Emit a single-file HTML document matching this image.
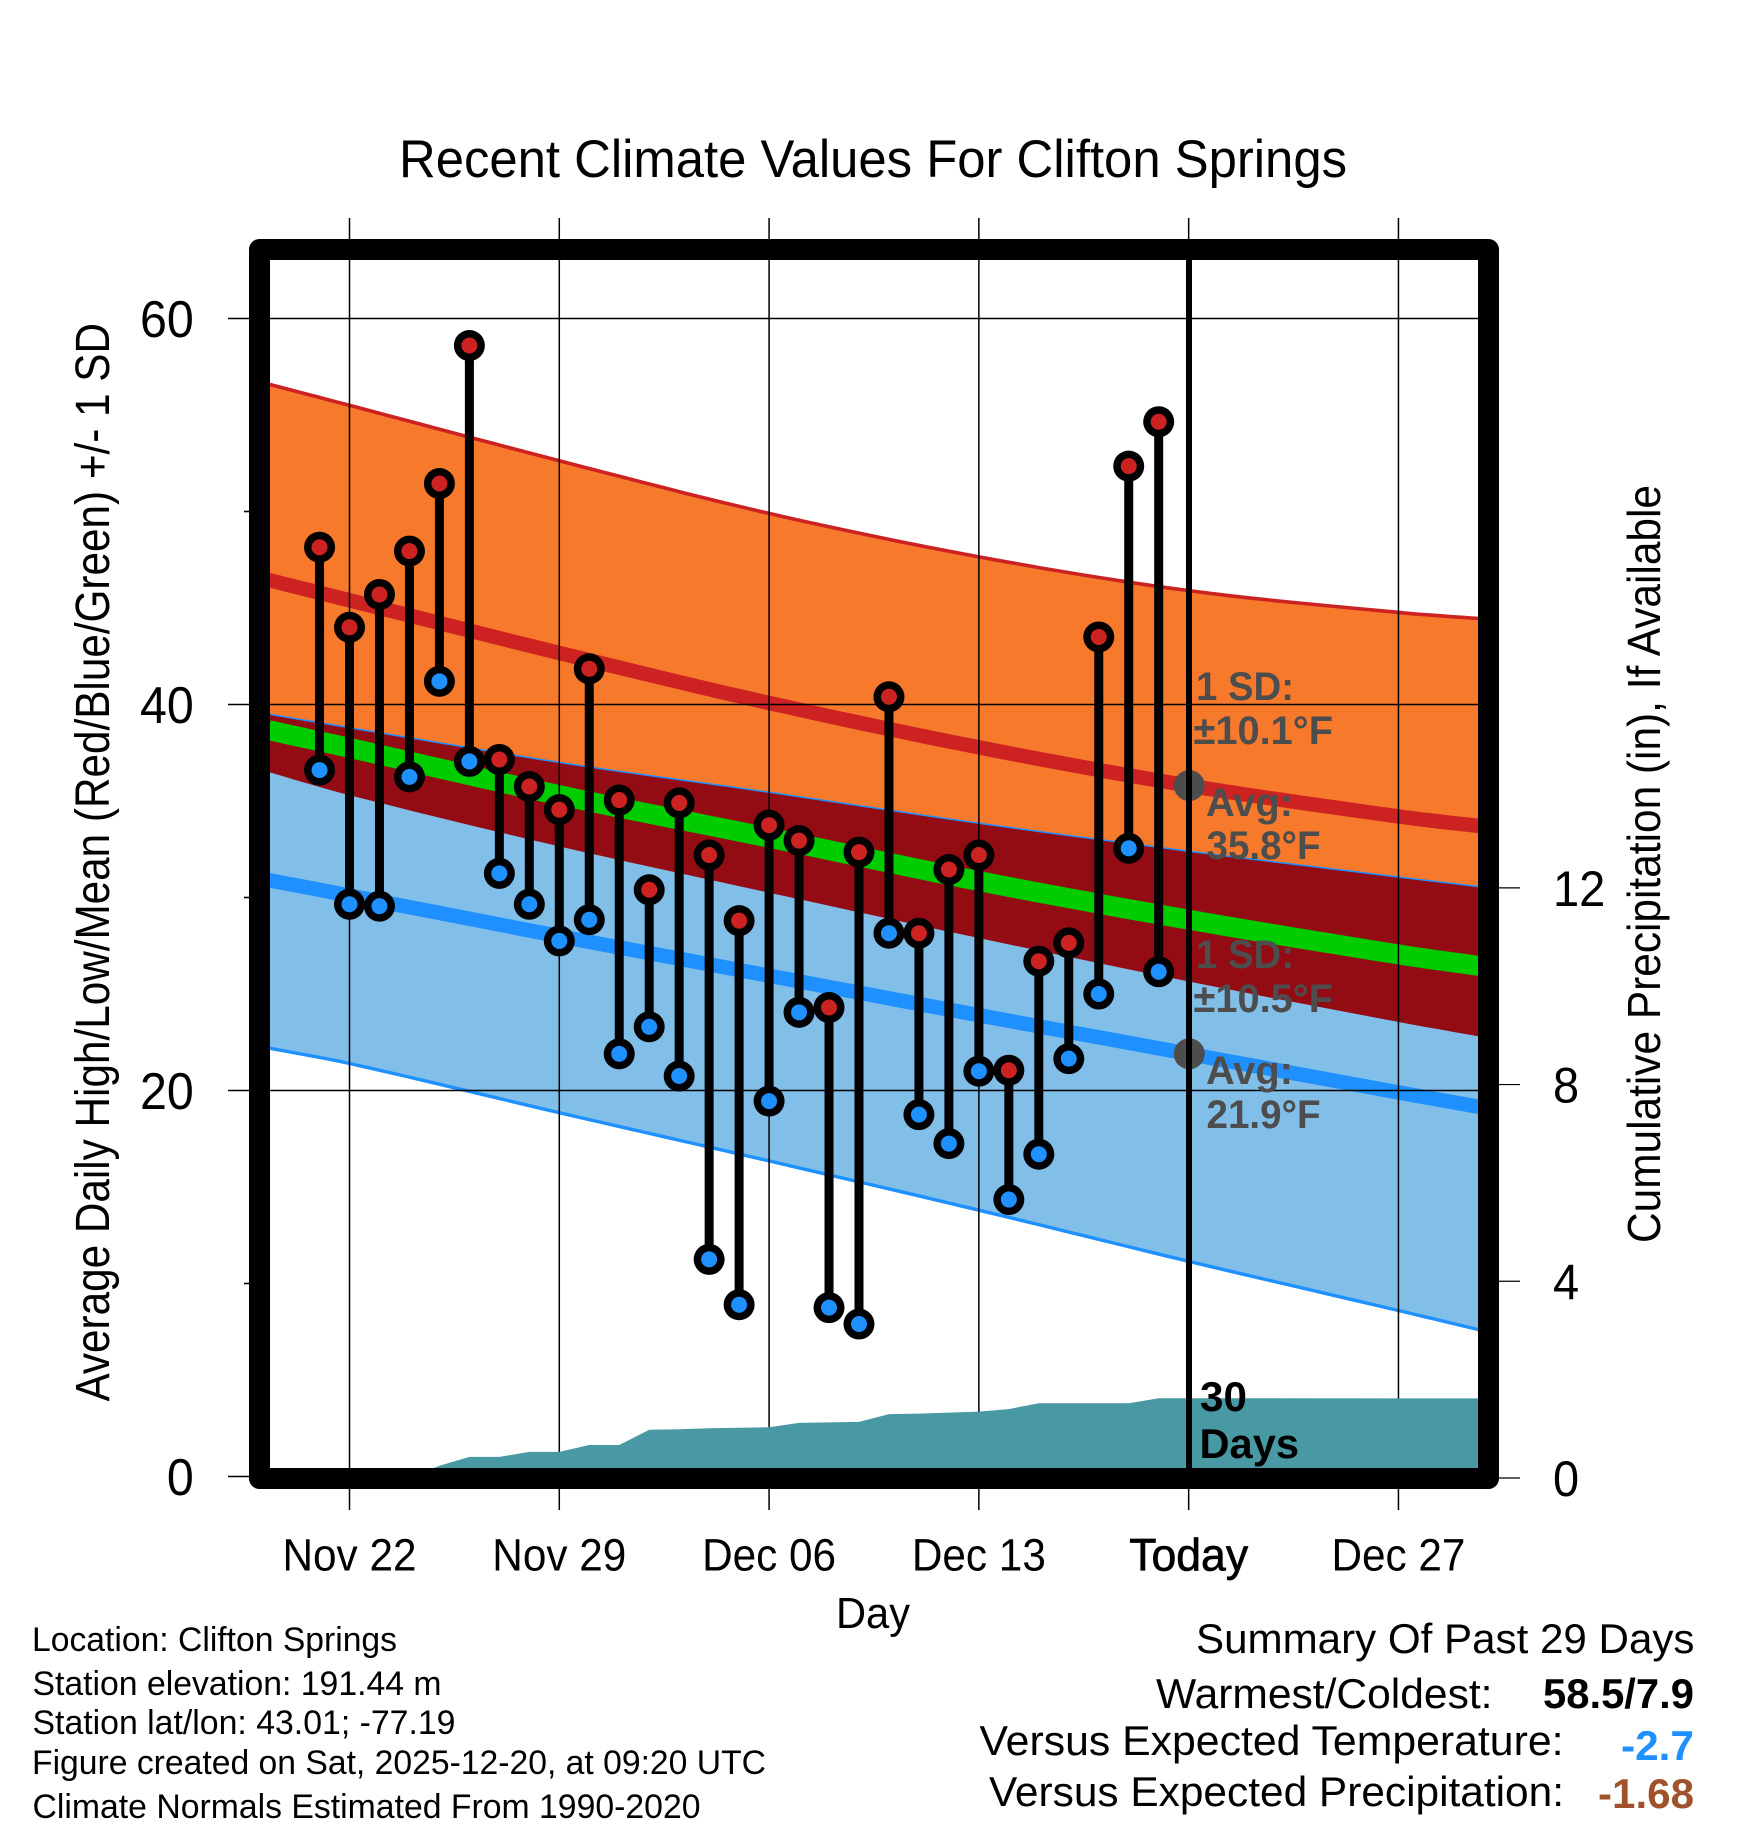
<!DOCTYPE html>
<html lang="en">
<head>
<meta charset="utf-8">
<title>Recent Climate Values For Clifton Springs</title>
<style>
html,body{margin:0;padding:0;background:#fff;width:1748px;height:1828px;overflow:hidden}
svg{display:block}
text{font-family:"Liberation Sans",sans-serif;fill:#000}
.b{font-weight:bold}
.g{font-weight:bold;fill:#4d4d4d;font-size:40px}
</style>
</head>
<body>
<svg id="chart" xmlns="http://www.w3.org/2000/svg" width="1748" height="1828" viewBox="0 0 1748 1828">
  <rect x="0" y="0" width="1748" height="1828" fill="#fff"/>
  <g id="bands"></g>
  <g id="grid"></g>
  <g id="precip"></g>
  <g id="dots"></g>
  <g id="obs"></g>
  <line x1="1189" y1="250" x2="1189" y2="1478" stroke="#000" stroke-width="6"/>
  <rect x="259.5" y="249.5" width="1229" height="1229" fill="none" stroke="#000" stroke-width="21" stroke-linejoin="round"/>
  <g id="ticks"></g>

  <text x="399" y="177" font-size="53" textLength="948" lengthAdjust="spacingAndGlyphs">Recent Climate Values For Clifton Springs</text>
  <text transform="translate(109,1401.5) rotate(-90)" font-size="48" textLength="1078.5" lengthAdjust="spacingAndGlyphs">Average Daily High/Low/Mean (Red/Blue/Green) +/- 1 SD</text>
  <text transform="translate(1660,1243) rotate(-90)" font-size="46" textLength="758" lengthAdjust="spacingAndGlyphs">Cumulative Precipitation (in), If Available</text>
  <text x="836" y="1628" font-size="44" textLength="74" lengthAdjust="spacingAndGlyphs">Day</text>

  <text class="g" x="1196" y="700" textLength="98" lengthAdjust="spacingAndGlyphs">1 SD:</text>
  <text class="g" x="1193.5" y="744" textLength="139.5" lengthAdjust="spacingAndGlyphs">±10.1°F</text>
  <text class="g" x="1206" y="816" textLength="87" lengthAdjust="spacingAndGlyphs">Avg:</text>
  <text class="g" x="1206.5" y="859" textLength="114" lengthAdjust="spacingAndGlyphs">35.8°F</text>
  <text class="g" x="1196" y="968" textLength="98" lengthAdjust="spacingAndGlyphs">1 SD:</text>
  <text class="g" x="1193.5" y="1012" textLength="139.5" lengthAdjust="spacingAndGlyphs">±10.5°F</text>
  <text class="g" x="1206" y="1084" textLength="87" lengthAdjust="spacingAndGlyphs">Avg:</text>
  <text class="g" x="1206.5" y="1128" textLength="114" lengthAdjust="spacingAndGlyphs">21.9°F</text>

  <text class="b" x="1200" y="1411" font-size="42" textLength="47" lengthAdjust="spacingAndGlyphs">30</text>
  <text class="b" x="1199.5" y="1458" font-size="42" textLength="99.5" lengthAdjust="spacingAndGlyphs">Days</text>

  <text x="32" y="1651" font-size="34" textLength="365" lengthAdjust="spacingAndGlyphs">Location: Clifton Springs</text>
  <text x="32.5" y="1695" font-size="34" textLength="409" lengthAdjust="spacingAndGlyphs">Station elevation: 191.44 m</text>
  <text x="32.5" y="1734" font-size="34" textLength="423" lengthAdjust="spacingAndGlyphs">Station lat/lon: 43.01; -77.19</text>
  <text x="32" y="1774" font-size="34" textLength="734" lengthAdjust="spacingAndGlyphs">Figure created on Sat, 2025-12-20, at 09:20 UTC</text>
  <text x="32.5" y="1818" font-size="34" textLength="668" lengthAdjust="spacingAndGlyphs">Climate Normals Estimated From 1990-2020</text>

  <text x="1196" y="1653" font-size="42" textLength="498.5" lengthAdjust="spacingAndGlyphs">Summary Of Past 29 Days</text>
  <text x="1156" y="1708" font-size="42" textLength="336.5" lengthAdjust="spacingAndGlyphs">Warmest/Coldest:</text>
  <text class="b" x="1543" y="1708" font-size="42" textLength="151" lengthAdjust="spacingAndGlyphs">58.5/7.9</text>
  <text x="979.5" y="1755" font-size="42" textLength="584" lengthAdjust="spacingAndGlyphs">Versus Expected Temperature:</text>
  <text class="b" x="1621" y="1760" font-size="42" textLength="73" lengthAdjust="spacingAndGlyphs" style="fill:#1e90ff">-2.7</text>
  <text x="989" y="1806" font-size="42" textLength="575" lengthAdjust="spacingAndGlyphs">Versus Expected Precipitation:</text>
  <text class="b" x="1598" y="1808" font-size="42" textLength="96" lengthAdjust="spacingAndGlyphs" style="fill:#a0522d">-1.68</text>
</svg>
<script>
// ---- data ----
const observationDays = ['Nov 21','Nov 22','Nov 23','Nov 24','Nov 25','Nov 26','Nov 27','Nov 28','Nov 29','Nov 30','Dec 01','Dec 02','Dec 03','Dec 04','Dec 05','Dec 06','Dec 07','Dec 08','Dec 09','Dec 10','Dec 11','Dec 12','Dec 13','Dec 14','Dec 15','Dec 16','Dec 17','Dec 18','Dec 19'];
const dailyHigh = [48.15,44.0,45.7,47.95,51.45,58.6,37.15,35.75,34.55,41.85,35.05,30.4,34.9,32.2,28.8,33.75,32.95,24.3,32.35,40.4,28.15,31.45,32.2,21.05,26.7,27.65,43.5,52.35,54.65];
const dailyLow = [36.6,29.65,29.55,36.25,41.2,37.05,31.25,29.65,27.75,28.85,21.9,23.3,20.75,11.25,8.9,19.45,24.05,8.75,7.9,28.15,18.75,17.25,21.0,14.35,16.7,21.65,25.0,32.55,26.15];
const precipTotal = [0,0,0,0,0.25,0.43,0.43,0.53,0.53,0.67,0.67,0.98,0.99,1.01,1.02,1.03,1.12,1.13,1.14,1.30,1.31,1.33,1.35,1.40,1.52,1.52,1.52,1.52,1.62];
const normalDays = [-2.7,0,7,14,21,28,35,37.7];
const normalHighPlusSd = [56.6,55.5,52.63,49.9,47.65,45.9,44.77,44.45];
const normalHigh = [46.45,45.4,42.67,40.08,37.78,35.8,34.2,33.7];
const normalHighMinusSd = [36.5,35.3,32.65,30.25,27.9,25.65,23.55,22.8];
const normalMean = [38.67,37.75,35.3,33.1,30.85,28.85,27.05,26.45];
const normalLowPlusSd = [39.5,38.8,37.0,35.45,33.85,32.4,31.06,30.56];
const normalLow = [30.9,30.1,28.0,25.95,23.9,21.9,19.9,19.15];
const normalLowMinusSd = [22.2,21.4,18.85,16.35,13.8,11.15,8.6,7.6];
const todayOffset = 28;
const xTickLabels = ['Nov 22','Nov 29','Dec 06','Dec 13','Today','Dec 27'];
const xTickOffsets = [0,7,14,21,28,35];
const yMajorTicks = [60,40,20,0];
const yMinorTicks = [50,30,10];
const precipTicks = [12,8,4,0];

// ---- axes ----
const xD = d => 349.5 + 29.97 * d;
const yT = v => 1476.5 - 19.3 * v;
const yP = p => 1478 - 49.18 * p;

const NS = 'http://www.w3.org/2000/svg';
function mk(tag, attrs, parent) {
  const n = document.createElementNS(NS, tag);
  for (const k in attrs) n.setAttribute(k, attrs[k]);
  parent.appendChild(n);
  return n;
}
// Smooth curve through the normal readings (cubic Hermite between knots).
function curvePts(vals) {
  const n = normalDays.length;
  const slope = i => {
    const a = Math.max(i - 1, 0), b = Math.min(i + 1, n - 1);
    return (vals[b] - vals[a]) / (normalDays[b] - normalDays[a]);
  };
  const out = [];
  for (let i = 0; i < n - 1; i++) {
    const h = normalDays[i + 1] - normalDays[i];
    const m0 = slope(i), m1 = slope(i + 1);
    for (let s = 0; s < 10; s++) {
      const t = s / 10, t2 = t * t, t3 = t2 * t;
      const v = (2 * t3 - 3 * t2 + 1) * vals[i] + (t3 - 2 * t2 + t) * h * m0 + (-2 * t3 + 3 * t2) * vals[i + 1] + (t3 - t2) * h * m1;
      out.push(xD(normalDays[i] + t * h).toFixed(1) + ',' + yT(v).toFixed(1));
    }
  }
  out.push(xD(normalDays[n - 1]).toFixed(1) + ',' + yT(vals[n - 1]).toFixed(1));
  return out;
}
function bandPts(upper, lower) {
  return curvePts(upper).concat(curvePts(lower).reverse()).join(' ');
}
function linePts(vals) {
  return curvePts(vals).join(' ');
}

const bands = document.getElementById('bands');
const grid = document.getElementById('grid');
const precip = document.getElementById('precip');
const dots = document.getElementById('dots');
const obs = document.getElementById('obs');
const ticks = document.getElementById('ticks');

// ---- bands ----
const orangeBand = mk('polygon', {points: bandPts(normalHighPlusSd, normalHighMinusSd), fill: '#f7792b'}, bands);


const blueBand = mk('polygon', {points: bandPts(normalLowPlusSd, normalLowMinusSd), fill: '#82bfe8'}, bands);


const overlapBand = mk('polygon', {points: bandPts(normalLowPlusSd, normalHighMinusSd), fill: '#930c14'}, bands);


const highUpperLine = mk('polyline', {points: linePts(normalHighPlusSd), fill: 'none', stroke: '#cc2222', 'stroke-width': 3.6}, bands);


const lowUpperLine = mk('polyline', {points: linePts(normalLowPlusSd), fill: 'none', stroke: '#1e90ff', 'stroke-width': 1.5}, bands);


const lowLowerLine = mk('polyline', {points: linePts(normalLowMinusSd), fill: 'none', stroke: '#1e90ff', 'stroke-width': 3.4}, bands);


const highLine = mk('polyline', {points: linePts(normalHigh), fill: 'none', stroke: '#cc2222', 'stroke-width': 14.5}, bands);


const lowLine = mk('polyline', {points: linePts(normalLow), fill: 'none', stroke: '#1e90ff', 'stroke-width': 14.5}, bands);


const meanLine = mk('polyline', {points: linePts(normalMean), fill: 'none', stroke: '#00cc00', 'stroke-width': 20}, bands);



// ---- grid and tick marks ----
xTickOffsets.forEach((d) => {
  const v = mk('line', {x1: xD(d), x2: xD(d), y1: 218, y2: 1510, stroke: '#000', 'stroke-width': 1.5}, grid);
  
  
});
yMajorTicks.forEach((t) => {
  const h = mk('line', {x1: 228, x2: 1478, y1: yT(t), y2: yT(t), stroke: '#000', 'stroke-width': 1.6}, grid);
  
  
});
yMinorTicks.forEach((t) => {
  const h = mk('line', {x1: 244, x2: 252, y1: yT(t), y2: yT(t), stroke: '#000', 'stroke-width': 1.6}, grid);
  
  
});
precipTicks.forEach((t) => {
  const h = mk('line', {x1: 1497, x2: 1520, y1: yP(t), y2: yP(t), stroke: '#000', 'stroke-width': 1.2}, grid);
  
  
});

// ---- precipitation area ----
const precipTop = precipTotal.map((p, i) => xD(i - 1).toFixed(1) + ',' + yP(p).toFixed(1));
const lastPrecip = precipTotal[precipTotal.length - 1];
const precipArea = mk('polygon', {
  points: [xD(-1) + ',' + yP(0)].concat(precipTop, [xD(37.7) + ',' + yP(lastPrecip), xD(37.7) + ',' + yP(0)]).join(' '),
  fill: '#4899a3'
}, precip);



// ---- today average dots ----
const highDot = mk('circle', {cx: xD(todayOffset) + 0.6, cy: yT(normalHigh[5]), r: 15.5, fill: '#4d4d4d'}, dots);


const lowDot = mk('circle', {cx: xD(todayOffset) + 0.6, cy: yT(normalLow[5]), r: 15.5, fill: '#4d4d4d'}, dots);



// ---- daily observations ----
observationDays.forEach((day, i) => {
  const x = xD(i - 1);
  const yh = yT(dailyHigh[i]);
  const yl = yT(dailyLow[i]);
  const stem = mk('line', {x1: x, x2: x, y1: yh, y2: yl, stroke: '#000', 'stroke-width': 9}, obs);
  
  
  const hiOuter = mk('circle', {cx: x, cy: yh, r: 15.5, fill: '#000'}, obs);
  
  
  const hiInner = mk('circle', {cx: x, cy: yh, r: 8, fill: '#cc2222'}, obs);
  
  
  const loOuter = mk('circle', {cx: x, cy: yl, r: 15.5, fill: '#000'}, obs);
  
  
  const loInner = mk('circle', {cx: x, cy: yl, r: 8, fill: '#1e90ff'}, obs);
  
  
});

// ---- tick labels ----
function squeeze(node, factor) {
  node.setAttribute('textLength', (node.getComputedTextLength() * factor).toFixed(1));
  node.setAttribute('lengthAdjust', 'spacingAndGlyphs');
}
xTickLabels.forEach((label, i) => {
  const t = mk('text', {x: xD(xTickOffsets[i]), y: 1570.5, 'font-size': 45, 'text-anchor': 'middle'}, ticks);
  
  
  t.textContent = label;
  if (label === 'Today') {
    t.setAttribute('stroke', '#000');
    t.setAttribute('stroke-width', '0.7');
    squeeze(t, 0.99);
  } else {
    squeeze(t, 0.94);
  }
});
yMajorTicks.forEach((v) => {
  const t = mk('text', {x: 193.8, y: yT(v) + 18.3, 'font-size': 52, 'text-anchor': 'end'}, ticks);
  
  
  t.textContent = String(v);
  squeeze(t, 0.93);
});
precipTicks.forEach((v) => {
  const t = mk('text', {x: 1553, y: yP(v) + 18, 'font-size': 50}, ticks);
  
  
  t.textContent = String(v);
  squeeze(t, 0.94);
});
</script>
</body>
</html>
